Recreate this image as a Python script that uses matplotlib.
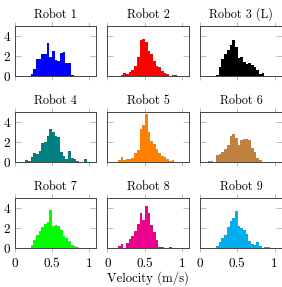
import numpy as np
import matplotlib
matplotlib.use("Agg")
import matplotlib.pyplot as plt

plt.rcParams['font.family'] = ['cmr10', 'DejaVu Serif']
plt.rcParams['axes.formatter.use_mathtext'] = True

# Histogram data (density per bin, bins of width 0.036 starting at 0)
bin_width = 0.036
n_bins = 30

robot_names = ["Robot 1", "Robot 2", "Robot 3 (L)",
               "Robot 4", "Robot 5", "Robot 6",
               "Robot 7", "Robot 8", "Robot 9"]

robot_colors = ["#0000ff", "#ff0000", "#000000",
                "#008080", "#ff8000", "#bf8040",
                "#00ff00", "#ec008c", "#00aeef"]

robot1 = [0, 0, 0, 0, 0, 0, 0.2, 0.7, 1.7, 1.75, 2.2, 2.25, 3.35, 1.9, 2.5,
          1.6, 1.55, 2.3, 2.45, 1.35, 1.35, 0.1, 0.05, 0.05, 0, 0, 0, 0, 0, 0]
robot2 = [0, 0, 0, 0.08, 0.08, 0.1, 0.3, 0.25, 0.45, 0.6, 1.0, 1.9, 3.6, 3.7, 3.4,
          2.5, 2.2, 1.5, 1.0, 0.9, 0.5, 0.3, 0.2, 0.05, 0.1, 0.1, 0, 0, 0, 0]
robot3 = [0, 0, 0, 0, 0, 0, 0.1, 0.9, 1.7, 2.2, 2.6, 3.1, 3.65, 2.9, 1.8,
          1.9, 1.4, 1.2, 1.3, 1.1, 0.9, 0.6, 0.2, 0.3, 0.05, 0, 0, 0, 0, 0]
robot4 = [0, 0, 0.05, 0.05, 0.2, 0.1, 0.5, 0.95, 0.8, 1.1, 1.9, 2.0, 2.6, 3.3, 3.0,
          2.65, 2.5, 1.0, 0.6, 0.3, 1.1, 0.4, 0.35, 0.1, 0, 0, 0.3, 0, 0, 0]
robot5 = [0, 0, 0.05, 0.05, 0.2, 0.55, 0.2, 0.3, 0.35, 0.4, 0.9, 1.2, 3.3, 3.7, 4.8,
          3.0, 2.1, 1.8, 1.3, 0.9, 0.65, 0.5, 0.3, 0.15, 0.2, 0.05, 0.05, 0, 0, 0]
robot6 = [0, 0, 0, 0.15, 0.15, 0.05, 0.75, 0.8, 1.05, 1.3, 1.7, 2.6, 2.8, 2.4, 1.7,
          2.2, 2.35, 2.35, 2.2, 1.4, 1.0, 0.45, 0.2, 0.05, 0, 0, 0, 0, 0, 0]
robot7 = [0, 0, 0, 0.08, 0.05, 0.05, 0.3, 0.85, 1.3, 1.7, 2.1, 2.45, 2.65, 3.85, 2.2,
          2.3, 2.2, 1.8, 1.25, 1.05, 0.75, 0.3, 0.2, 0.15, 0.05, 0, 0, 0, 0, 0]
robot8 = [0, 0, 0, 0.05, 0.2, 0.45, 0.05, 0.5, 0.9, 1.2, 1.7, 2.4, 3.5, 2.8, 4.25,
          3.5, 2.3, 1.6, 0.85, 0.15, 0.1, 0.05, 0.05, 0.15, 0.05, 0.05, 0, 0, 0, 0]
robot9 = [0, 0, 0, 0, 0, 0.05, 0.2, 0.6, 1.0, 1.35, 2.1, 2.7, 3.0, 3.7, 2.25,
          2.05, 1.8, 1.45, 0.75, 0.45, 0.3, 0.6, 0.2, 0.05, 0.1, 0.1, 0.05, 0, 0, 0]

robot_data = [robot1, robot2, robot3, robot4, robot5, robot6, robot7, robot8, robot9]

x_ticks = [0, 0.5, 1]
x_tick_labels = ["0", "0.5", "1"]
y_ticks = [0, 2, 4]
y_tick_labels = ["0", "2", "4"]


def plot_grid():
    fig = plt.figure(figsize=(2.82, 2.87), dpi=100)
    W, H = 282.0, 287.0
    lefts = [14.5, 107.3, 200.0]
    bottoms = [76.3, 162.3, 248.3]
    w, h = 82.0, 50.0
    edges = np.arange(n_bins) * bin_width

    for i in range(9):
        row, col = divmod(i, 3)
        ax = fig.add_axes([lefts[col] / W, 1 - bottoms[row] / H, w / W, h / H])
        ax.bar(edges, robot_data[i], width=bin_width, align='edge',
               color=robot_colors[i], linewidth=0)
        ax.set_xlim(0, 1.1)
        ax.set_ylim(0, 5)
        ax.set_title(robot_names[i], fontsize=8.8, pad=6)

        ax.set_xticks(x_ticks)
        ax.set_yticks(y_ticks)
        ax.tick_params(axis='x', direction='out', top=True, length=3,
                       width=0.5, color='#a0a0a0', labelsize=9.5, pad=4)
        ax.tick_params(axis='y', direction='in', right=True, length=4,
                       width=0.5, color='#a0a0a0', labelsize=9.5, pad=3)
        if row == 2:
            ax.set_xticklabels(x_tick_labels)
        else:
            ax.set_xticklabels([])
        if col == 0:
            ax.set_yticklabels(y_tick_labels)
        else:
            ax.set_yticklabels([])
        for s in ax.spines.values():
            s.set_color('#444444')
            s.set_linewidth(0.7)
        if row == 2 and col == 1:
            ax.set_xlabel("Velocity (m/s)", fontsize=9.2, labelpad=1)

    fig.savefig("out.png", dpi=100)


plot_grid()
